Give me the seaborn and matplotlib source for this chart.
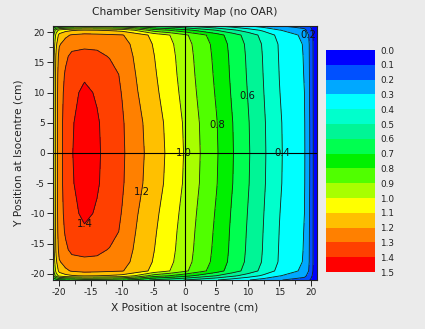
import numpy as np
import matplotlib
matplotlib.use("Agg")
import matplotlib.pyplot as plt
from matplotlib.colors import ListedColormap, BoundaryNorm
from matplotlib.ticker import MultipleLocator
import seaborn as sns

# ---- data ----
x_pos = [-21, -20.5, -20, -19, -18, -16, -14, -12, -10, -7.5, -5, -2.5, 0,
         2.5, 5, 7.5, 10, 12.5, 15, 17.5, 19, 20, 20.5, 21]
y_pos_upper = [0, 5, 10, 13, 16, 18, 19.5, 20.3, 21]   # map is symmetric in y

# sensitivity columns (one per x position, values from y=0 up to the top edge)
sens_cols = [
    [0.95, 0.95, 0.945, 0.94, 0.925, 0.90, 0.86, 0.80, 0.60],
    [1.15, 1.15, 1.145, 1.14, 1.12, 1.08, 1.03, 0.95, 0.65],
    [1.27, 1.27, 1.265, 1.255, 1.235, 1.19, 1.13, 1.03, 0.68],
    [1.33, 1.328, 1.32, 1.31, 1.285, 1.24, 1.18, 1.07, 0.70],
    [1.395, 1.39, 1.375, 1.36, 1.32, 1.27, 1.21, 1.09, 0.72],
    [1.46, 1.45, 1.42, 1.385, 1.33, 1.28, 1.23, 1.11, 0.75],
    [1.415, 1.41, 1.39, 1.37, 1.32, 1.28, 1.225, 1.10, 0.75],
    [1.362, 1.36, 1.35, 1.335, 1.295, 1.255, 1.215, 1.09, 0.74],
    [1.314, 1.31, 1.296, 1.287, 1.262, 1.235, 1.205, 1.07, 0.72],
    [1.232, 1.225, 1.201, 1.186, 1.172, 1.165, 1.150, 0.98, 0.66],
    [1.154, 1.147, 1.125, 1.114, 1.104, 1.094, 1.073, 0.854, 0.577],
    [1.079, 1.073, 1.052, 1.041, 1.033, 1.023, 1.003, 0.798, 0.540],
    [0.992, 0.986, 0.967, 0.957, 0.949, 0.940, 0.918, 0.734, 0.496],
    [0.897, 0.892, 0.875, 0.866, 0.858, 0.850, 0.830, 0.664, 0.449],
    [0.810, 0.805, 0.790, 0.782, 0.775, 0.768, 0.745, 0.599, 0.405],
    [0.708, 0.704, 0.690, 0.683, 0.678, 0.671, 0.651, 0.524, 0.354],
    [0.612, 0.608, 0.597, 0.591, 0.586, 0.580, 0.560, 0.453, 0.306],
    [0.515, 0.512, 0.502, 0.497, 0.493, 0.488, 0.466, 0.381, 0.258],
    [0.413, 0.411, 0.403, 0.399, 0.395, 0.392, 0.372, 0.306, 0.207],
    [0.345, 0.343, 0.336, 0.333, 0.330, 0.327, 0.311, 0.255, 0.173],
    [0.308, 0.306, 0.300, 0.297, 0.295, 0.292, 0.277, 0.228, 0.154],
    [0.180, 0.179, 0.176, 0.174, 0.172, 0.171, 0.162, 0.133, 0.090],
    [0.080, 0.080, 0.078, 0.077, 0.077, 0.076, 0.072, 0.059, 0.040],
    [0.040, 0.040, 0.039, 0.039, 0.038, 0.038, 0.036, 0.030, 0.020],
]

level_values = [0.0, 0.1, 0.2, 0.3, 0.4, 0.5, 0.6, 0.7, 0.8, 0.9,
                1.0, 1.1, 1.2, 1.3, 1.4, 1.5]
band_colors = ["#0000FF", "#0050FF", "#00A8FF", "#00FFFF", "#00FFCC",
               "#00F596", "#00FF50", "#00F000", "#50FF00", "#A8FF00",
               "#FFFF00", "#FFC000", "#FF8000", "#FF4000", "#FF0000"]
labelled_levels = [0.2, 0.4, 0.6, 0.8, 1.0, 1.2, 1.4]
unlabelled_levels = [0.1, 0.3, 0.5, 0.7, 0.9, 1.1, 1.3]
label_spots = [(20.3, 19.6), (15.5, 0.0), (10.4, 9.5), (5.2, 4.7),
               (0.0, 0.0), (-6.1, -6.6), (-16.3, -12.0)]

title = "Chamber Sensitivity Map (no OAR)"
xlabel = "X Position at Isocentre (cm)"
ylabel = "Y Position at Isocentre (cm)"

# ---- build full grid ----
xg = np.array(x_pos, dtype=float)
yu = np.array(y_pos_upper, dtype=float)
zu = np.array(sens_cols, dtype=float).T           # rows = y, cols = x
yg = np.concatenate([-yu[::-1][:-1], yu])
zg = np.vstack([zu[::-1][:-1], zu])

sns.set_theme(style="ticks")
plt.rcParams["font.family"] = ["DejaVu Sans"]
plt.rcParams["axes.unicode_minus"] = False
bg = "#EBEBEB"
txt = "#222222"

fig = plt.figure(figsize=(4.25, 3.29), dpi=100, facecolor=bg)
ax = fig.add_axes([53/425, 1-280/329, 264/425, 254/329])

cmap = ListedColormap(band_colors)
norm = BoundaryNorm(level_values, cmap.N)
cf = ax.contourf(xg, yg, zg, levels=level_values, cmap=cmap, norm=norm)
ax.contour(xg, yg, zg, levels=unlabelled_levels, colors="#1a1a1a",
           linewidths=0.6)
cl = ax.contour(xg, yg, zg, levels=labelled_levels, colors="#1a1a1a",
                linewidths=0.6)
lbls = ax.clabel(cl, manual=label_spots, fmt="%.1f", fontsize=7.2,
                 colors="#111111", inline=False)
for t in lbls:
    t.set_rotation(0)
    t.set_clip_on(True)

ax.axhline(0, color="black", lw=0.8)
ax.axvline(0, color="black", lw=0.8)
ax.set_xlim(-21, 21)
ax.set_ylim(-21, 21)
ax.xaxis.set_major_locator(MultipleLocator(5))
ax.xaxis.set_minor_locator(MultipleLocator(2.5))
ax.yaxis.set_major_locator(MultipleLocator(5))
ax.yaxis.set_minor_locator(MultipleLocator(2.5))
ax.tick_params(which="major", direction="out", length=4, width=0.7,
               labelsize=6.4, pad=2, colors=txt)
ax.tick_params(which="minor", direction="out", length=3, width=0.6,
               colors=txt)
for s in ax.spines.values():
    s.set_linewidth(0.8)
    s.set_color(txt)
ax.set_xlabel(xlabel, fontsize=7.7, color=txt, labelpad=4)
ax.set_ylabel(ylabel, fontsize=7.7, color=txt, labelpad=5)
ax.set_title(title, fontsize=7.7, color=txt, pad=8)

# ---- legend-like colour bar ----
cax = fig.add_axes([326/425, 1-272/329, 49/425, 222/329])
cb = fig.colorbar(cf, cax=cax, ticks=level_values)
cb.outline.set_visible(False)
cax.invert_yaxis()
cax.set_yticklabels([f"{v:.1f}" for v in level_values])
cax.tick_params(length=0, labelsize=6.4, pad=4, colors=txt)

fig.savefig("out.png", dpi=100, facecolor=bg)
